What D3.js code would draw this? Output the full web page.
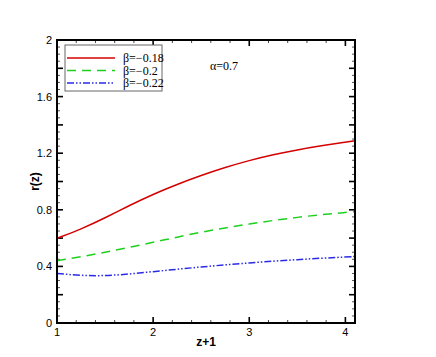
<!DOCTYPE html>
<html>
<head>
<meta charset="utf-8">
<script src="https://cdn.jsdelivr.net/npm/d3@7"></script>
<style>
  body { margin: 0; background: #fff; }
  svg { display: block; }
</style>
</head>
<body>
<svg id="chart" width="436" height="357"></svg>
<script>
// values
const xs = [1, 1.25, 1.5, 1.75, 2, 2.25, 2.5, 2.75, 3, 3.25, 3.5, 3.75, 4, 4.1];
const rRed = [0.599, 0.663, 0.742, 0.83, 0.91, 0.98, 1.043, 1.10, 1.149, 1.19, 1.224, 1.253, 1.278, 1.287];
const rGreen = [0.44, 0.468, 0.50, 0.535, 0.57, 0.607, 0.642, 0.672, 0.70, 0.725, 0.747, 0.766, 0.781, 0.787];
const rBlue = [0.35, 0.335, 0.333, 0.346, 0.363, 0.38, 0.396, 0.411, 0.425, 0.437, 0.448, 0.458, 0.466, 0.47];

const seriesNames = ["β=−0.18", "β=−0.2", "β=−0.22"];
const seriesColors = ["#d40000", "#1ed01e", "#2a2ae6"];
const seriesDash = [null, "9,6", "7,2,1.5,2,1.5,2"];

const xTicks = [1, 2, 3, 4];
const yTicks = [0, 0.4, 0.8, 1.2, 1.6, 2];

const svg = d3.select("#chart");
const margin = {left: 57, right: 81, top: 40, bottom: 34};
const width = 436, height = 357;

const x = d3.scaleLinear().domain([1, 4.1]).range([margin.left, width - margin.right]);
const y = d3.scaleLinear().domain([0, 2]).range([height - margin.bottom, margin.top]);

const x0 = x.range()[0], x1 = x.range()[1];
const y0 = y.range()[0], y1 = y.range()[1];

const near = (arr, v) => arr.some(t => Math.abs(t - v) < 1e-6);
// tick marks: x long at integers, short every 0.2; y long every 0.2, short every 0.05
const xMinor = d3.range(1, 4.1001, 0.2).filter(v => !near(xTicks, v));
const yMajor = d3.range(0, 2.0001, 0.2);
const yMinor = d3.range(0, 2.0001, 0.05).filter(v => !near(yMajor, v));

const tickG = svg.append("g");

function vTicks(vals, len, sw, col) {
  tickG.selectAll(null).data(vals).enter().append("line")
    .attr("x1", d => x(d)).attr("x2", d => x(d))
    .attr("y1", y0).attr("y2", y0 - len).attr("stroke-width", sw).attr("stroke", col);
  tickG.selectAll(null).data(vals).enter().append("line")
    .attr("x1", d => x(d)).attr("x2", d => x(d))
    .attr("y1", y1).attr("y2", y1 + len).attr("stroke-width", sw).attr("stroke", col);
}
function hTicks(vals, len, sw, col) {
  tickG.selectAll(null).data(vals).enter().append("line")
    .attr("y1", d => y(d)).attr("y2", d => y(d))
    .attr("x1", x0).attr("x2", x0 + len).attr("stroke-width", sw).attr("stroke", col);
  tickG.selectAll(null).data(vals).enter().append("line")
    .attr("y1", d => y(d)).attr("y2", d => y(d))
    .attr("x1", x1).attr("x2", x1 - len).attr("stroke-width", sw).attr("stroke", col);
}
vTicks(xTicks, 6, 1.6, "#000");
vTicks(xMinor, 3, 1, "#444");
hTicks(yMajor, 6, 1.6, "#000");
hTicks(yMinor, 3, 1, "#555");

// tick labels
svg.append("g").selectAll("text").data(xTicks).enter().append("text")
  .attr("x", d => x(d)).attr("y", y0 + 13)
  .attr("text-anchor", "middle")
  .attr("font-family", "Liberation Sans, Arial, sans-serif").attr("font-size", 11)
  .text(d => d);
svg.append("g").selectAll("text").data(yTicks).enter().append("text")
  .attr("x", x0 - 5).attr("y", d => y(d) + 4)
  .attr("text-anchor", "end")
  .attr("font-family", "Liberation Sans, Arial, sans-serif").attr("font-size", 11)
  .text(d => d);

// curves
const seriesData = [rRed, rGreen, rBlue];
const line = d3.line().x(d => x(d[0])).y(d => y(d[1])).curve(d3.curveBasis);
seriesData.forEach((vals, i) => {
  svg.append("path")
    .datum(xs.map((v, j) => [v, vals[j]]))
    .attr("d", line)
    .attr("fill", "none")
    .attr("stroke", seriesColors[i])
    .attr("stroke-width", 1.5)
    .attr("stroke-dasharray", seriesDash[i]);
});

// frame
svg.append("rect")
  .attr("x", x0).attr("y", y1)
  .attr("width", x1 - x0).attr("height", y0 - y1)
  .attr("fill", "none").attr("stroke", "#000").attr("stroke-width", 2);

// legend
const lg = svg.append("g");
lg.append("rect").attr("x", 65).attr("y", 45).attr("width", 97).attr("height", 46)
  .attr("fill", "#fff").attr("stroke", "#666").attr("stroke-width", 1);
seriesNames.forEach((name, i) => {
  const ly = 58 + i * 12.5;
  lg.append("line").attr("x1", 67).attr("x2", 115).attr("y1", ly).attr("y2", ly)
    .attr("stroke", seriesColors[i]).attr("stroke-width", 1.5)
    .attr("stroke-dasharray", seriesDash[i]);
  lg.append("text").attr("x", 123).attr("y", ly + 4)
    .attr("font-family", "Liberation Serif, Times New Roman, serif").attr("font-size", 12)
    .text(name);
});

svg.append("text").attr("x", 210).attr("y", 70)
  .attr("font-family", "Liberation Serif, Times New Roman, serif").attr("font-size", 12)
  .text("α=0.7");

// axis titles
svg.append("text").attr("x", (x0 + x1) / 2).attr("y", 346)
  .attr("text-anchor", "middle")
  .attr("font-family", "Liberation Sans, Arial, sans-serif").attr("font-size", 12).attr("font-weight", "bold")
  .text("z+1");
svg.append("text")
  .attr("transform", `translate(39,${(y0 + y1) / 2}) rotate(-90)`)
  .attr("text-anchor", "middle")
  .attr("font-family", "Liberation Sans, Arial, sans-serif").attr("font-size", 12).attr("font-weight", "bold")
  .text("r(z)");
</script>
</body>
</html>
